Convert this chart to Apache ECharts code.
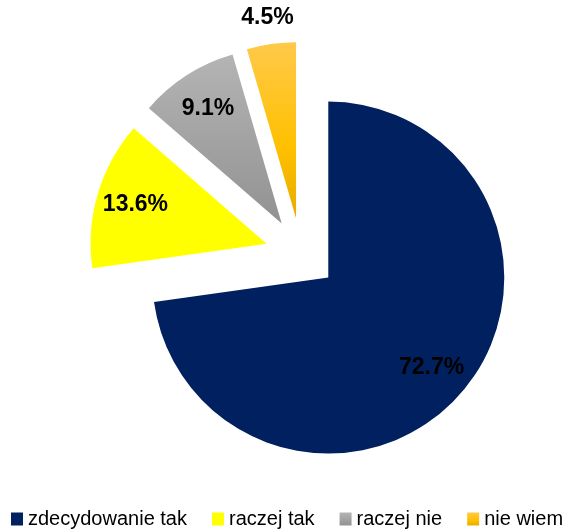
<!DOCTYPE html>
<html>
<head>
<meta charset="utf-8">
<script src="https://cdn.jsdelivr.net/npm/echarts@6/dist/echarts.min.js"></script>
<style>
html,body{margin:0;padding:0;background:#fff;}
#chart{width:566px;height:529px;}
</style>
</head>
<body>
<div id="chart"></div>
<script>
const categories = ['zdecydowanie tak', 'raczej tak', 'raczej nie', 'nie wiem'];
const values = [72.7, 13.6, 9.1, 4.5];
const labelOutside = [false, false, false, true];

const FONT = '"Liberation Sans", Arial, sans-serif';

const colors = [
  '#00205F',
  '#FFFF00',
  {type:'linear', x:0, y:0, x2:0, y2:1, colorStops:[{offset:0,color:'#B4B4B4'},{offset:1,color:'#929292'}]},
  {type:'linear', x:0, y:0, x2:0, y2:1, colorStops:[{offset:0,color:'#FFC94A'},{offset:0.6,color:'#FFC000'},{offset:1,color:'#E6AC00'}]}
];

const CENTER = ['53.2%', '48%'];
const R = 176;
const OFFSET = 36;

function mkData(kind) {
  return categories.map((name, i) => {
    const d = { name, value: values[i], selected: true };
    if (kind === 'main') {
      d.itemStyle = { color: colors[i] };
    } else {
      const show = kind === 'inner' ? !labelOutside[i] : labelOutside[i];
      d.itemStyle = { color: 'rgba(0,0,0,0)' };
      d.label = { show };
    }
    return d;
  });
}

const labelStyle = {
  position: 'inside',
  formatter: p => p.value.toFixed(1) + '%',
  color: '#000',
  fontFamily: FONT,
  fontWeight: 'bold',
  fontSize: 23
};

const base = {
  type: 'pie',
  center: CENTER,
  startAngle: 90,
  clockwise: true,
  selectedMode: 'multiple',
  selectedOffset: OFFSET,
  avoidLabelOverlap: false,
  animation: false,
  labelLine: { show: false },
  emphasis: { disabled: true },
  select: { disabled: false }
};

const chart = echarts.init(document.getElementById('chart'));
chart.setOption({
  backgroundColor: '#fff',
  animation: false,
  legend: {
    data: categories,
    left: 11,
    top: 509,
    width: 560,
    padding: 0,
    icon: 'rect',
    itemWidth: 12,
    itemHeight: 13,
    itemGap: 25,
    textStyle: { fontFamily: FONT, fontSize: 20, color: '#000' },
    selectedMode: false
  },
  series: [
    Object.assign({}, base, {
      name: 'main',
      radius: [0, R],
      label: { show: false },
      data: mkData('main')
    }),
    Object.assign({}, base, {
      name: 'labelsInner',
      silent: true,
      radius: [0, R * 1.52],
      label: labelStyle,
      data: mkData('inner')
    }),
    Object.assign({}, base, {
      name: 'labelsOuter',
      silent: true,
      radius: [0, R * 2.27],
      label: labelStyle,
      data: mkData('outer')
    })
  ]
});
</script>
</body>
</html>
